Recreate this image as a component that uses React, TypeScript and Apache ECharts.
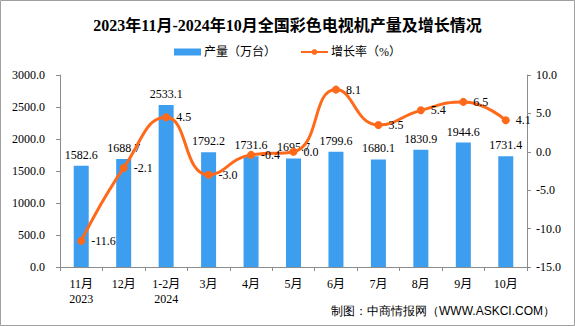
import React, { useEffect, useRef } from "react";
import * as echarts from "echarts";

const categories = ["11月\n2023", "12月", "1-2月\n2024", "3月", "4月", "5月", "6月", "7月", "8月", "9月", "10月"];
const production = [1582.6, 1688.7, 2533.1, 1792.2, 1731.6, 1695.7, 1799.6, 1680.1, 1830.9, 1944.6, 1731.4];
const growth = [-11.6, -2.1, 4.5, -3.0, -0.4, 0.0, 8.1, 3.5, 5.4, 6.5, 4.1];

const FONT = "'Liberation Serif', 'Noto Sans CJK SC', serif";

export default function App() {
  const ref = useRef<HTMLDivElement>(null);
  useEffect(() => {
    document.body.style.margin = "0";
    const chart = echarts.init(ref.current!, undefined, { renderer: "svg" });
    chart.setOption({
      animation: false,
      backgroundColor: "#fff",
      textStyle: { fontFamily: FONT },
      title: {
        text: "2023年11月-2024年10月全国彩色电视机产量及增长情况",
        left: "center",
        top: 12,
        textStyle: { fontSize: 16, fontWeight: "bold", color: "#000", fontFamily: FONT },
      },
      legend: {
        top: 41,
        left: "center",
        itemGap: 24,
        itemWidth: 27,
        itemHeight: 7,
        textStyle: { fontSize: 12, color: "#000", fontFamily: FONT, padding: [0, 0, 0, -2] },
        data: [
          { name: "产量（万台）", icon: "rect" },
          { name: "增长率（%）" },
        ],
      },
      graphic: [
        {
          type: "rect",
          shape: { x: 0.5, y: 0.5, width: 574, height: 325 },
          style: { fill: "none", stroke: "#a0a0a0", lineWidth: 1 },
          silent: true,
        },
        {
          type: "text",
          right: 20,
          top: 305,
          style: { text: "制图：中商情报网（WWW.ASKCI.COM）", fontSize: 12, fill: "#000", font: "12px " + FONT },
        },
      ],
      grid: { left: 60, right: 48, top: 75, bottom: 59 },
      xAxis: {
        type: "category",
        data: categories,
        axisLine: { lineStyle: { color: "#8c8c8c" } },
        axisTick: { show: true, length: 4, lineStyle: { color: "#8c8c8c" } },
        axisLabel: { color: "#000", fontSize: 12, margin: 9, lineHeight: 15, fontFamily: FONT, interval: 0 },
      },
      yAxis: [
        {
          type: "value",
          min: 0,
          max: 3000,
          interval: 500,
          splitLine: { show: false },
          axisLine: { show: true, lineStyle: { color: "#8c8c8c" } },
          axisTick: { show: true, length: 4, lineStyle: { color: "#8c8c8c" } },
          axisLabel: { color: "#000", fontSize: 12, margin: 15, fontFamily: FONT, formatter: (v: number) => v.toFixed(1) },
        },
        {
          type: "value",
          min: -15,
          max: 10,
          interval: 5,
          splitLine: { show: false },
          axisLine: { show: true, lineStyle: { color: "#8c8c8c" } },
          axisTick: { show: true, length: 4, lineStyle: { color: "#8c8c8c" } },
          axisLabel: { color: "#000", fontSize: 12, margin: 9, fontFamily: FONT, formatter: (v: number) => v.toFixed(1) },
        },
      ],
      series: [
        {
          name: "产量（万台）",
          type: "bar",
          data: production,
          barWidth: 15,
          itemStyle: { color: "#3D9DEF" },
          label: {
            show: true,
            position: "top",
            distance: 5,
            color: "#000",
            fontSize: 12,
            fontFamily: FONT,
            formatter: (p: any) => p.value.toFixed(1),
          },
        },
        {
          name: "增长率（%）",
          type: "line",
          yAxisIndex: 1,
          data: growth,
          smooth: true,
          symbol: "circle",
          symbolSize: 8,
          lineStyle: { color: "#FF6A1A", width: 3 },
          itemStyle: { color: "#FF6A1A" },
          label: {
            show: true,
            position: "right",
            distance: 6,
            color: "#000",
            fontSize: 12,
            fontFamily: FONT,
            formatter: (p: any) => p.value.toFixed(1),
          },
        },
      ],
    });
    return () => chart.dispose();
  }, []);
  return <div ref={ref} style={{ width: 575, height: 326 }} />;
}
